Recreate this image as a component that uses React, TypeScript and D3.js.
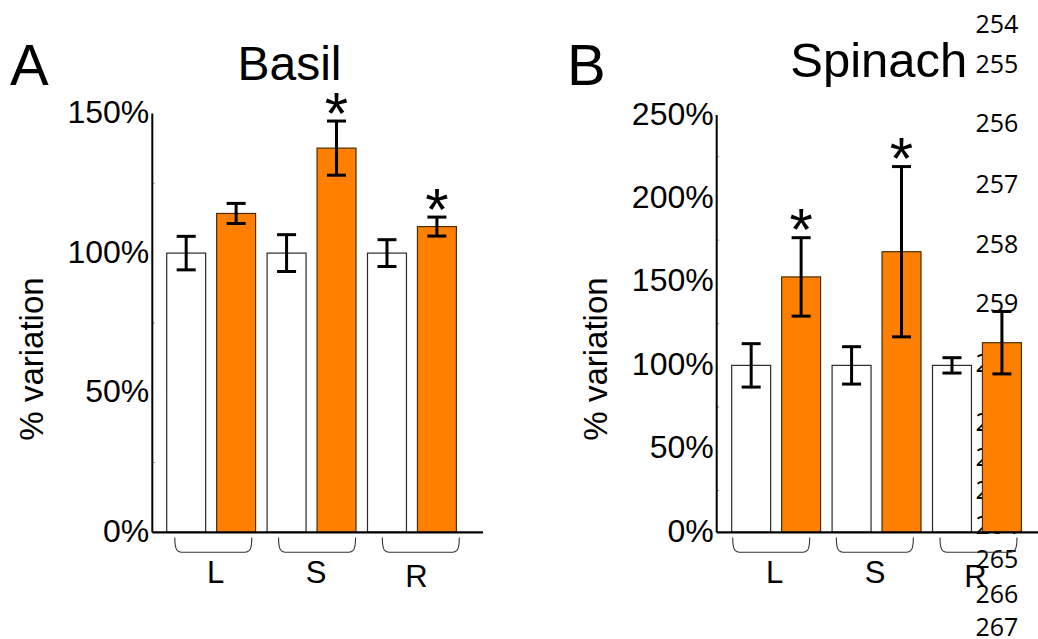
import React from "react";
import * as d3 from "d3";

// ---------- data ----------
const categories = ["L", "S", "R"];
const groups = ["control", "treated"];

const basilControl = [100, 100, 100];
const basilControlErr = [6.0, 6.6, 4.8];
const basilTreated = [114.2, 137.6, 109.5];
const basilTreatedErr = [3.6, 9.7, 3.4];
const basilSignificant = [false, true, true];
const basilTicks = [0, 50, 100, 150];
const basilMinorTicks = [25, 75, 125];

const spinachControl = [100, 100, 100];
const spinachControlErr = [13.0, 11.2, 4.6];
const spinachTreated = [153.0, 168.1, 113.6];
const spinachTreatedErr = [23.5, 51.0, 18.7];
const spinachSignificant = [true, true, false];
const spinachTicks = [0, 50, 100, 150, 200, 250];
const spinachMinorTicks = [25, 75, 125, 175, 225];

const lineNumbers = [254, 255, 256, 257, 258, 259, 260, 261, 262, 263, 264, 265, 266, 267];

// ---------- layout (not data) ----------
const W = 1038;
const H = 639;
const FONT = "'Liberation Sans', Arial, Helvetica, sans-serif";
const ORANGE = "#FF8000";
const lineNumberY = [33, 73, 132, 193, 253, 312, 372, 431, 466, 499, 534, 568, 603, 636];

type PanelCfg = {
  letter: string;
  letterX: number;
  title: string;
  titleX: number;
  titleY: number;
  titleSize: number;
  axisX: number;
  axisEnd: number;
  yTop: number;
  yMax: number;
  barsStart: number;
  control: number[];
  controlErr: number[];
  treated: number[];
  treatedErr: number[];
  sig: boolean[];
  ticks: number[];
  minor: number[];
  bracketFirst: number;
  bracketLast: number;
  labelShift: number;
  yLabelX: number;
};

const Y0 = 532.3;

function Panel({ c }: { c: PanelCfg }) {
  const y = d3.scaleLinear().domain([0, c.yMax]).range([Y0, c.yTop]);
  const step = 100.4;
  const pIn = 11.5 / step;
  const x = d3
    .scaleBand<string>()
    .domain(categories)
    .range([c.barsStart, c.barsStart + step * (3 - pIn)])
    .paddingInner(pIn)
    .paddingOuter(0);
  const xi = d3
    .scaleBand<string>()
    .domain(groups)
    .range([0, x.bandwidth()])
    .paddingInner(0.22)
    .paddingOuter(0);
  const bw = xi.bandwidth();
  const bx = d3.scalePoint<string>().domain(categories).range([c.bracketFirst, c.bracketLast]);
  const series = [
    { key: "control", vals: c.control, errs: c.controlErr },
    { key: "treated", vals: c.treated, errs: c.treatedErr },
  ];
  const capHalf = 9.5;
  const brHalf = 38.5;
  const brTop = 537.5;
  const brBot = 552.3;

  return (
    <g>
      <text x={c.letterX} y={85} fontSize={58} fontFamily={FONT} fill="#000">
        {c.letter}
      </text>
      <text x={c.titleX} y={c.titleY} fontSize={c.titleSize} fontFamily={FONT} textAnchor="middle" fill="#000">
        {c.title}
      </text>
      <text
        transform={`translate(${c.yLabelX},359) rotate(-90)`}
        fontSize={33}
        fontFamily={FONT}
        textAnchor="middle"
        fill="#000"
      >
        % variation
      </text>
      {c.ticks.map((t) => (
        <text
          key={t}
          x={c.axisX - 3}
          y={y(t) + 9.5}
          fontSize={32}
          fontFamily={FONT}
          textAnchor="end"
          fill="#000"
        >
          {`${t}%`}
        </text>
      ))}
      {c.minor.map((t) => (
        <line key={t} x1={c.axisX} x2={c.axisX + 2.5} y1={y(t)} y2={y(t)} stroke="#999" strokeWidth={1} />
      ))}
      {/* bars */}
      {categories.map((cat, i) => (
        <g key={cat}>
          {series.map((s) => {
            const x0 = (x(cat) as number) + (xi(s.key) as number);
            const top = y(s.vals[i]);
            return (
              <rect
                key={s.key}
                x={x0}
                y={top}
                width={bw}
                height={Y0 - top}
                fill={s.key === "control" ? "#fff" : ORANGE}
                stroke={s.key === "control" ? "#2a2a2a" : "#4a2e00"}
                strokeWidth={1.2}
              />
            );
          })}
        </g>
      ))}
      {/* error bars */}
      {categories.map((cat, i) => (
        <g key={cat}>
          {series.map((s) => {
            const cx = (x(cat) as number) + (xi(s.key) as number) + bw / 2;
            const hi = y(s.vals[i] + s.errs[i]);
            const lo = y(s.vals[i] - s.errs[i]);
            return (
              <g key={s.key} stroke="#000" strokeWidth={3}>
                <line x1={cx} x2={cx} y1={hi} y2={lo} />
                <line x1={cx - capHalf} x2={cx + capHalf} y1={hi} y2={hi} />
                <line x1={cx - capHalf} x2={cx + capHalf} y1={lo} y2={lo} />
              </g>
            );
          })}
          {c.sig[i] && (
            <text
              x={(x(cat) as number) + (xi("treated") as number) + bw / 2}
              y={y(c.treated[i] + c.treatedErr[i]) - 21 + 0.56 * 60}
              fontSize={60}
              fontFamily={FONT}
              textAnchor="middle"
              fill="#000"
            >
              *
            </text>
          )}
        </g>
      ))}
      {/* axes */}
      <line x1={c.axisX} x2={c.axisX} y1={c.yTop} y2={Y0} stroke="#000" strokeWidth={2} />
      <line x1={c.axisX} x2={c.axisEnd} y1={Y0} y2={Y0} stroke="#000" strokeWidth={2.2} />
      {/* brackets + category labels */}
      {categories.map((cat) => {
        const cx = bx(cat) as number;
        const l = cx - brHalf;
        const r = cx + brHalf;
        const d = `M${l},${brTop} C${l},${brBot - 2} ${l + 2},${brBot} ${l + 9},${brBot} L${r - 9},${brBot} C${r - 2},${brBot} ${r},${brBot - 2} ${r},${brTop}`;
        const labelX = (x(cat) as number) + x.bandwidth() / 2 + c.labelShift;
        return (
          <g key={cat}>
            <path d={d} fill="none" stroke="#333" strokeWidth={1.1} />
            <text
              x={labelX}
              y={cat === "R" ? 587 : 582.5}
              fontSize={31}
              fontFamily={FONT}
              textAnchor="middle"
              fill="#000"
            >
              {cat}
            </text>
          </g>
        );
      })}
    </g>
  );
}

const panelA: PanelCfg = {
  letter: "A",
  letterX: 10,
  title: "Basil",
  titleX: 289.5,
  titleY: 80,
  titleSize: 48,
  axisX: 152.3,
  axisEnd: 483,
  yTop: 113.5,
  yMax: 150,
  barsStart: 166.7,
  control: basilControl,
  controlErr: basilControlErr,
  treated: basilTreated,
  treatedErr: basilTreatedErr,
  sig: basilSignificant,
  ticks: basilTicks,
  minor: basilMinorTicks,
  bracketFirst: 213.3,
  bracketLast: 420.8,
  labelShift: 4.5,
  yLabelX: 42.5,
};

const panelB: PanelCfg = {
  letter: "B",
  letterX: 567,
  title: "Spinach",
  titleX: 878.8,
  titleY: 76.7,
  titleSize: 49,
  axisX: 716.7,
  axisEnd: 1038,
  yTop: 115,
  yMax: 250,
  barsStart: 731.7,
  control: spinachControl,
  controlErr: spinachControlErr,
  treated: spinachTreated,
  treatedErr: spinachTreatedErr,
  sig: spinachSignificant,
  ticks: spinachTicks,
  minor: spinachMinorTicks,
  bracketFirst: 771.2,
  bracketLast: 978.5,
  labelShift: -1.5,
  yLabelX: 606.5,
};

export default function App() {
  return (
    <svg
      width={W}
      height={H}
      viewBox={`0 0 ${W} ${H}`}
      style={{ position: "absolute", left: 0, top: 0, background: "#fff" }}
    >
      <rect x={0} y={0} width={W} height={H} fill="#fff" />
      {lineNumbers.map((n, i) => (
        <text
          key={n}
          x={975.5}
          y={lineNumberY[i]}
          fontSize={25}
          fontFamily="'Open Sans', 'Noto Sans', sans-serif"
          fill="#000"
        >
          {n}
        </text>
      ))}
      <Panel c={panelA} />
      <Panel c={panelB} />
    </svg>
  );
}
